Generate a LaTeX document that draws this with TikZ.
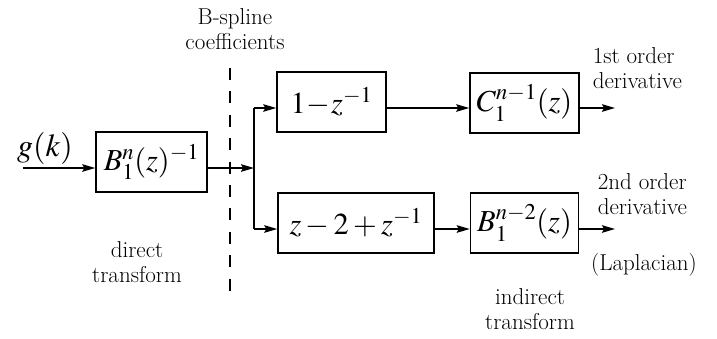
\documentclass[tikz,border=0pt]{standalone}
\usepackage{mathptmx}
\usetikzlibrary{arrows.meta}
\begin{document}
\begin{tikzpicture}[x=1pt,y=-1pt,
  line width=1.5pt,
  arr/.style={-{Stealth[length=13pt,width=7.5pt,inset=2pt]}},
  blk/.style={draw,minimum height=60pt,inner sep=0pt,font=\fontsize{30.5}{32}\selectfont},
  lbl/.style={font=\fontsize{23}{24.5}\selectfont,inner sep=0pt}]
\useasboundingbox (0,0) rectangle (717,338);
% boxes
\node[blk,minimum width=111pt] (b1) at (151.5,162) {$B_1^n(z)^{-1}$};
\node[blk,minimum width=109pt] (t1) at (331.5,102) {$1\mkern-2mu-\mkern-2mu z^{-1}$};
\node[blk,minimum width=109pt] (c1) at (524.5,103) {$C_1^{n-1}(z)$};
\node[blk,minimum width=156pt] (u1) at (356,223) {$z-2+z^{-1}$};
\node[blk,minimum width=108pt] (b2) at (524.5,223) {$B_1^{n-2}(z)$};
% labels
\node[lbl,font=\fontsize{32}{34}\selectfont] (g) at (45,148) {$g(k)$};
\node[lbl,align=center] (bs) at (235,29) {B-spline\\coefficients};
\node[lbl,align=center] (dt) at (137,262) {direct\\transform};
\node[lbl,align=left,anchor=west] (d1) at (592,68) {1st order\\derivative};
\node[lbl,align=left,anchor=west] (d2) at (597,194) {2nd order\\derivative};
\node[lbl] (lap) at (644,265) {(Laplacian)};
\node[lbl,align=center] (it) at (530,309) {indirect\\transform};
% coordinates
\coordinate (in) at (23,168);
\coordinate (br) at (254,168);
\coordinate (brt) at (254,108);
\coordinate (brb) at (254,229);
\coordinate (o1) at (615,108);
\coordinate (o2) at (615,229);
\coordinate (dsa) at (230,68);
\coordinate (dsb) at (230,298);
% dashed separator
\draw[line width=1.6pt,dash pattern=on 12pt off 11.4pt] (dsa) -- (dsb);
% connectors
\draw[arr] (in) -- (in -| b1.west);
\draw[arr] (br -| b1.east) -- (br);
\draw (brt) -- (brb);
\draw[arr] (brt) -- (brt -| t1.west);
\draw[arr] (brb) -- (brb -| u1.west);
\draw[arr] (brt -| t1.east) -- (brt -| c1.west);
\draw[arr] (brb -| u1.east) -- (brb -| b2.west);
\draw[arr] (brt -| c1.east) -- (o1);
\draw[arr] (brb -| b2.east) -- (o2);
\end{tikzpicture}
\end{document}
